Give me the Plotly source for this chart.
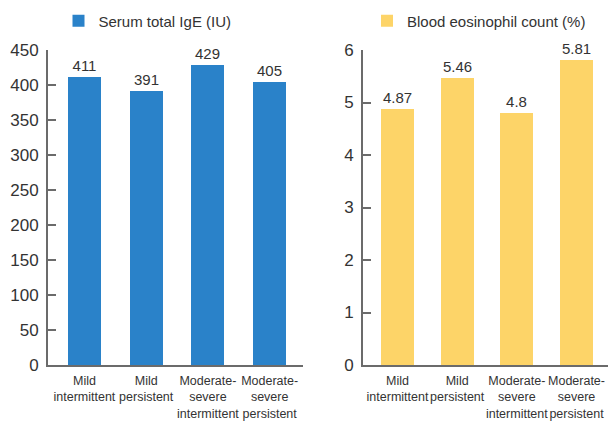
import plotly.graph_objects as go

categories = ["Mild<br>intermittent", "Mild<br>persistent",
              "Moderate-<br>severe<br>intermittent", "Moderate-<br>severe<br>persistent"]
ige_values = [411, 391, 429, 405]
eos_values = [4.87, 5.46, 4.8, 5.81]
ige_labels = ["411", "391", "429", "405"]
eos_labels = ["4.87", "5.46", "4.8", "5.81"]
ige_ticks = [0, 50, 100, 150, 200, 250, 300, 350, 400, 450]
eos_ticks = [0, 1, 2, 3, 4, 5, 6]

FONT = "Liberation Sans, Arial, Helvetica, sans-serif"
TXT = "#333333"
AX = "#6b6b6b"

# the page body has an 8px margin; figure is sized to fill the rest of the window
OFF = 8
W, H = 616 - OFF, 431 - OFF


def dx(p):
    return (p - OFF) / W


def dy(q):
    return 1 - (q - OFF) / H


fig = go.Figure()
fig.add_trace(go.Bar(
    x=categories, y=ige_values, name="Serum total IgE (IU)",
    marker=dict(color="#2a82c9", line=dict(width=0)), width=0.535,
    text=ige_labels, textposition="outside", cliponaxis=False,
    textfont=dict(family=FONT, size=15, color=TXT),
    xaxis="x", yaxis="y", legend="legend"))
fig.add_trace(go.Bar(
    x=categories, y=eos_values, name="Blood eosinophil count (%)",
    marker=dict(color="#fdd468", line=dict(width=0)), width=0.55,
    text=eos_labels, textposition="outside", cliponaxis=False,
    textfont=dict(family=FONT, size=15, color=TXT),
    xaxis="x2", yaxis="y2", legend="legend2"))

ydom = [dy(365), dy(50)]
xcommon = dict(type="category", showline=True, linecolor=AX, linewidth=2,
               ticks="", showgrid=False, zeroline=False, tickangle=0,
               ticklabelstandoff=3,
               tickfont=dict(family=FONT, size=12.5, color=TXT))
ycommon = dict(showline=True, linecolor=AX, linewidth=2, ticks="inside",
               ticklen=8, tickcolor=AX, tickwidth=1.5, showgrid=False, zeroline=False,
               ticklabelstandoff=4,
               tickfont=dict(family=FONT, size=17, color=TXT))

fig.update_layout(
    width=W, height=H, margin=dict(l=0, r=0, t=0, b=0, autoexpand=False),
    plot_bgcolor="white", paper_bgcolor="white", bargap=0,
    xaxis=dict(domain=[dx(48), dx(303)], range=[-0.59, 3.54], anchor="y", **xcommon),
    yaxis=dict(domain=ydom, range=[0, 450], tickvals=ige_ticks, anchor="x", **ycommon),
    xaxis2=dict(domain=[dx(363), 1.0], range=[-0.578, 3.662], anchor="y2", **xcommon),
    yaxis2=dict(domain=ydom, range=[0, 6], tickvals=eos_ticks, anchor="x2", **ycommon),
    legend=dict(x=dx(58.5), y=dy(4.5), xanchor="left", yanchor="top", bgcolor="rgba(0,0,0,0)",
                font=dict(family=FONT, size=15, color=TXT), itemwidth=30),
    legend2=dict(x=dx(367), y=dy(4.5), xanchor="left", yanchor="top", bgcolor="rgba(0,0,0,0)",
                 font=dict(family=FONT, size=15, color=TXT), itemwidth=30),
    showlegend=True,
)

fig.write_html("out.html")
